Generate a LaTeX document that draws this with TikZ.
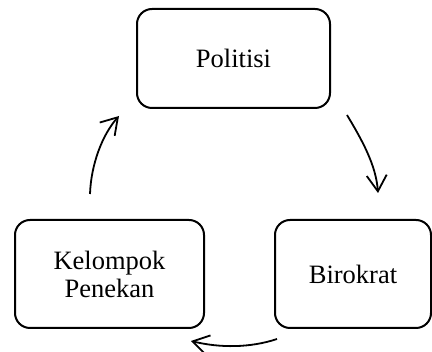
\documentclass[tikz,border=0pt]{standalone}
\usepackage{fontspec}
\setmainfont{Liberation Serif}
\usetikzlibrary{arrows.meta}
\begin{document}
\begin{tikzpicture}[x=1pt,y=-1pt,
  box/.style={draw, line width=2pt, rounded corners=15pt, inner sep=0pt, outer sep=0pt,
    align=center, font=\fontsize{26.5}{28}\selectfont},
  flow/.style={line width=1.8pt, -{Straight Barb[length=16pt,width=20pt,line width=1.8pt]}}]
\useasboundingbox (0,0) rectangle (432,352);
\node[box, minimum width=193pt, minimum height=99pt] (pol) at (233.5,58.5) {Politisi};
\node[box, minimum width=189pt, minimum height=108pt] (kel) at (109.5,274) {Kelompok\\Penekan};
\node[box, minimum width=156pt, minimum height=108pt] (bir) at (353,274) {Birokrat};
\coordinate (a1s) at (347,115);
\coordinate (a1e) at (378,193);
\coordinate (a2s) at (277,339);
\coordinate (a2e) at (191,341);
\coordinate (a3s) at (90,194);
\coordinate (a3e) at (119,116);
\draw[flow] (a1s) .. controls (362,140) and (376,165) .. (a1e);
\draw[flow] (a2s) .. controls (250,348) and (220,348) .. (a2e);
\draw[flow] (a3s) .. controls (91,165) and (102,135) .. (a3e);
\end{tikzpicture}
\end{document}
